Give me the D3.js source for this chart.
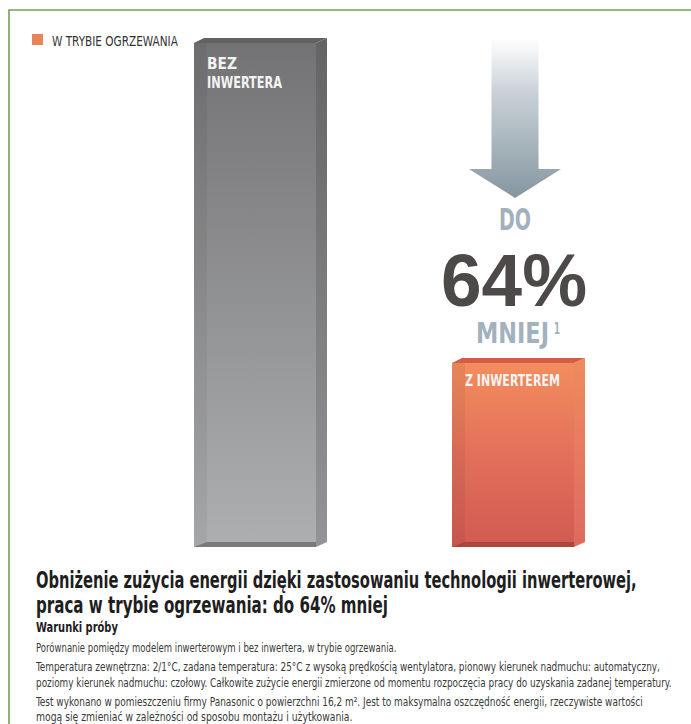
<!DOCTYPE html>
<html>
<head>
<meta charset="utf-8">
<script src="https://cdn.jsdelivr.net/npm/d3@7"></script>
<style>
  html, body { margin: 0; padding: 0; background: #fff; }
  svg { display: block; }
</style>
</head>
<body>
<div id="chart"></div>
<script>
// energy use, bez inwertera = 100
var categories = ["BEZ INWERTERA", "Z INWERTEREM"]
var energyUse = [100, 36]
var barLabels = [["BEZ", "INWERTERA"], ["Z INWERTEREM"]]
var legendLabel = "W TRYBIE OGRZEWANIA"
var savingLines = ["DO", "64%", "MNIEJ"]
var titleLines = ["Obniżenie zużycia energii dzięki zastosowaniu technologii inwerterowej,",
    "praca w trybie ogrzewania: do 64% mniej"]
var subTitle = "Warunki próby"
var noteLines = [
    "Porównanie pomiędzy modelem inwerterowym i bez inwertera, w trybie ogrzewania.",
    "Temperatura zewnętrzna: 2/1°C, zadana temperatura: 25°C z wysoką prędkością wentylatora, pionowy kierunek nadmuchu: automatyczny,",
    "poziomy kierunek nadmuchu: czołowy. Całkowite zużycie energii zmierzone od momentu rozpoczęcia pracy do uzyskania zadanej temperatury.",
    "Test wykonano w pomieszczeniu firmy Panasonic o powierzchni 16,2 m². Jest to maksymalna oszczędność energii, rzeczywiste wartości",
    "mogą się zmieniać w zależności od sposobu montażu i użytkowania."
]

var width = 691, height = 724
var narrow = "'Liberation Sans Narrow', 'DejaVu Sans Condensed', sans-serif"

var svg = d3.select("#chart")
    .append("svg")
    .attr("width", width)
    .attr("height", height)

// squeeze a text horizontally so it is w px wide (the reference font is very condensed)
function addText(px, py, str, size, weight, fill, w, anchor, family) {
    var t = svg.append("text")
        .attr("x", 0).attr("y", 0)
        .attr("font-family", family || narrow)
        .attr("font-weight", weight)
        .attr("font-size", size)
        .attr("fill", fill)
        .attr("text-anchor", anchor || "start")
        .text(str)
    var k = w ? w / t.node().getComputedTextLength() : 1
    t.attr("transform", "translate(" + px + "," + py + ") scale(" + k + ",1)")
    return t
}

var defs = svg.append("defs")
function vGrad(id, stops) {
    var g = defs.append("linearGradient")
        .attr("id", id)
        .attr("x1", 0).attr("y1", 0).attr("x2", 0).attr("y2", 1)
    stops.forEach(function (s) {
        g.append("stop").attr("offset", s[0]).attr("stop-color", s[1])
    })
}
vGrad("front0", [[0, "#737375"], [1, "#aeafb1"]])
vGrad("side0", [[0, "#646466"], [1, "#939497"]])
vGrad("front1", [[0, "#f38d5d"], [0.5, "#e2705a"], [1, "#d25a52"]])
vGrad("side1", [[0, "#f08a5f"], [1, "#dc6a5e"]])
vGrad("arrowGrad", [[0, "#ffffff"], [0.35, "#c8d0d6"], [1, "#8596a0"]])

var topColors = ["#626264", "#d45c48"]
var bottomColors = ["#7b7b7e", "#a9463f"]

// frame
svg.append("path")
    .attr("d", "M9,724 V10 H691")
    .attr("fill", "none")
    .attr("stroke", "#72a052")
    .attr("stroke-width", 1.6)

// legend
svg.append("rect")
    .attr("x", 32).attr("y", 34)
    .attr("width", 11).attr("height", 11)
    .attr("fill", "#e8845a")
addText(52, 46, legendLabel, 13.5, "normal", "#333", 126)

var x = d3.scaleBand()
    .domain(categories)
    .range([194, 574])
    .paddingInner(1 - 122 / 258)
    .paddingOuter(0)

var y = d3.scaleLinear()
    .domain([0, 100])
    .range([543, 43])

var depth = 11, lift = 5

var bars = svg.selectAll(".bar")
    .data(categories)
    .enter()
    .append("g")
    .attr("class", "bar")

// side face
bars.append("path")
    .attr("d", function (d, i) {
        var x1 = x(d) + x.bandwidth(), t = y(energyUse[i])
        return "M" + x1 + "," + t + " L" + (x1 + depth) + "," + (t - lift) +
            " L" + (x1 + depth) + "," + (y(0) - 1) + " L" + x1 + "," + (y(0) + 4) + "Z"
    })
    .attr("fill", function (d, i) { return "url(#side" + i + ")" })

// top face
bars.append("path")
    .attr("d", function (d, i) {
        var x0 = x(d), x1 = x0 + x.bandwidth(), t = y(energyUse[i])
        return "M" + x0 + "," + t + " L" + (x0 + 10) + "," + (t - lift) +
            " L" + (x1 + depth) + "," + (t - lift) + " L" + x1 + "," + t + "Z"
    })
    .attr("fill", function (d, i) { return topColors[i] })

// front face
bars.append("rect")
    .attr("x", function (d) { return x(d) })
    .attr("y", function (d, i) { return y(energyUse[i]) })
    .attr("width", x.bandwidth())
    .attr("height", function (d, i) { return y(0) + 4 - y(energyUse[i]) })
    .attr("fill", function (d, i) { return "url(#front" + i + ")" })

// darker left strip
bars.append("rect")
    .attr("x", function (d) { return x(d) })
    .attr("y", function (d, i) { return y(energyUse[i]) })
    .attr("width", 13)
    .attr("height", function (d, i) { return y(0) + 4 - y(energyUse[i]) })
    .attr("fill", "#000")
    .attr("opacity", 0.05)

// bottom face
bars.append("path")
    .attr("d", function (d) {
        var x0 = x(d), x1 = x0 + x.bandwidth(), b = y(0)
        return "M" + x0 + "," + (b + 4) + " L" + (x0 + 13) + "," + (b - 1) +
            " L" + x1 + "," + (b - 1) + " L" + x1 + "," + (b + 4) + "Z"
    })
    .attr("fill", function (d, i) { return bottomColors[i] })

// labels inside bars
var labelW = [[30, 75], [95]]
categories.forEach(function (d, i) {
    barLabels[i].forEach(function (line, j) {
        addText(x(d) + 13, y(energyUse[i]) + (i === 0 ? 26 : 23) + j * 19,
            line, 15.5, "bold", "#f4f4f4", labelW[i][j])
    })
})

// arrow
var cx = x(categories[1]) + x.bandwidth() / 2 + 2
var arrowTop = y(energyUse[0]) - lift
svg.append("path")
    .attr("d", "M" + (cx - 23.5) + "," + arrowTop + " H" + (cx + 23.5) + " V169 H" + (cx + 46) +
        " L" + cx + ",198 L" + (cx - 46) + ",169 H" + (cx - 23.5) + "Z")
    .attr("fill", "url(#arrowGrad)")

addText(cx, 230, savingLines[0], 30, "bold", "#a3b0bd", 32, "middle")
addText(cx - 1, 306, savingLines[1], 74, "bold", "#4d4949", 146, "middle",
    "'Liberation Sans', Arial, sans-serif")
addText(476, 343, savingLines[2], 29, "bold", "#a3b0bd", 73)
addText(554, 334, "1", 15, "bold", "#a3b0bd", 6)

// text below the chart
titleLines.forEach(function (line, i) {
    addText(36, 588 + i * 25, line, 23, "bold", "#1e1e1e", i === 0 ? 601 : 352)
})

addText(36, 632, subTitle, 14.5, "bold", "#1e1e1e", 82)

var noteY = [652, 671, 687, 706, 721]
var noteW = [361, 625, 636, 607, 317]
noteLines.forEach(function (line, i) {
    addText(36, noteY[i], line, 12.5, "normal", "#3a3a3a", noteW[i])
})
</script>
</body>
</html>
